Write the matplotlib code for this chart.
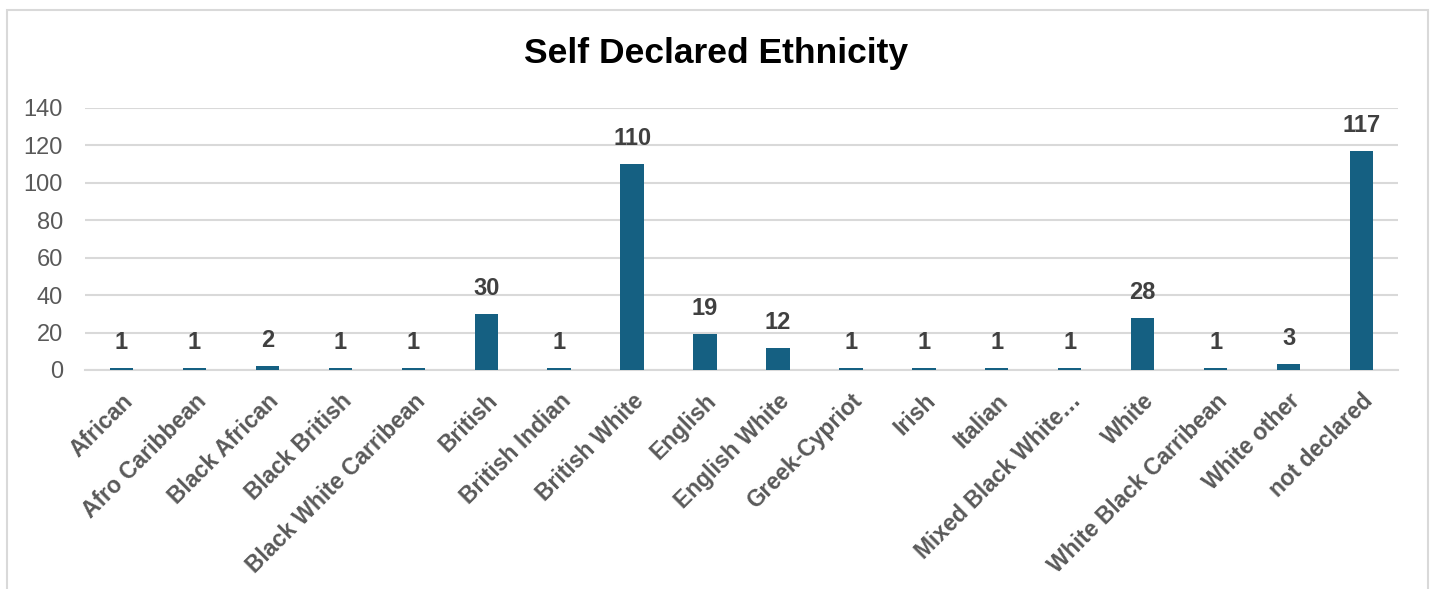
import matplotlib.pyplot as plt
from matplotlib.patches import Rectangle

# data
categories = ["African", "Afro Caribbean", "Black African", "Black British",
              "Black White Carribean", "British", "British Indian", "British White",
              "English", "English White", "Greek-Cypriot", "Irish", "Italian",
              "Mixed Black White\u2026", "White", "White Black Carribean",
              "White other", "not declared"]
counts = [1, 1, 2, 1, 1, 30, 1, 110, 19, 12, 1, 1, 1, 1, 28, 1, 3, 117]

plt.rcParams["font.family"] = ["Liberation Sans", "DejaVu Sans"]

W, H = 1433, 589
fig = plt.figure(figsize=(W / 100, H / 100), dpi=100)

# chart border
fig.patches.append(Rectangle((7 / W, -0.05), (1428 - 7) / W, 1.05 - 10 / H,
                             transform=fig.transFigure, fill=False,
                             edgecolor="#d9d9d9", linewidth=1.5))

ax = fig.add_axes([85 / W, 219 / H, (1398 - 85) / W, (370 - 108) / H])

x = range(len(categories))
bars = ax.bar(x, counts, width=0.32, color="#156082", zorder=3)

for b, v in zip(bars, counts):
    ax.text(b.get_x() + b.get_width() / 2, v + 7.5, str(v), ha="center", va="bottom",
            fontsize=17, fontweight="bold", color="#404040")

ax.set_xlim(-0.5, len(categories) - 0.5)
ax.set_ylim(0, 140)
ax.set_yticks(range(0, 141, 20))
ax.grid(axis="y", color="#d9d9d9", linewidth=1.5, zorder=0)
for s in ["top", "right", "left"]:
    ax.spines[s].set_visible(False)
ax.spines["bottom"].set_color("#d9d9d9")
ax.spines["bottom"].set_linewidth(1.5)
ax.tick_params(axis="both", length=0, colors="#595959")
ax.tick_params(axis="y", labelsize=17, pad=16)
ax.set_xticks(list(x))
ax.set_xticklabels(categories, rotation=45, ha="right", rotation_mode="anchor",
                   fontsize=16.5, fontweight="bold", color="#595959")
ax.tick_params(axis="x", pad=14)

fig.text(0.5, 1 - 53 / H, "Self Declared Ethnicity", ha="center",
         va="center", fontsize=25.5, fontweight="bold", color="black")

fig.savefig("out.png", dpi=100)
